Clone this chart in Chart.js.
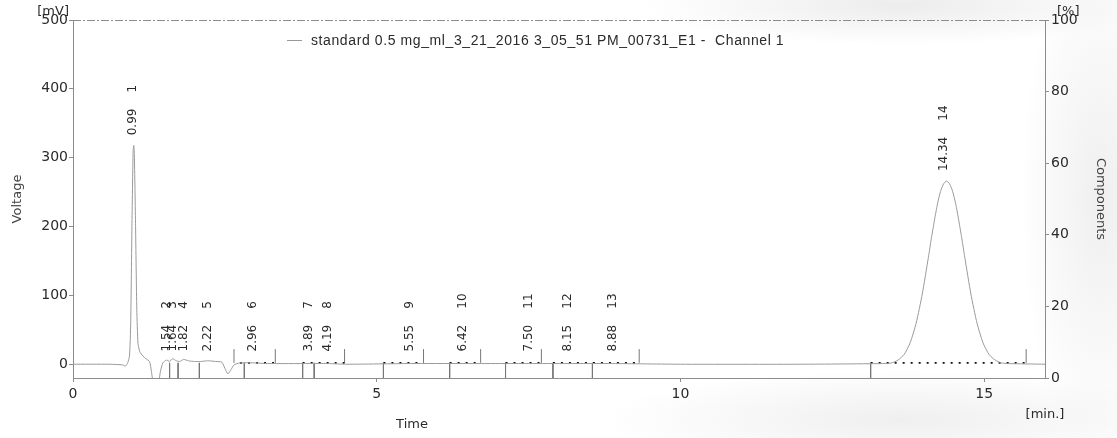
<!DOCTYPE html>
<html>
<head>
<meta charset="utf-8">
<script src="https://cdn.jsdelivr.net/npm/chart.js@4.4.0/dist/chart.umd.min.js"></script>
<style>
    html, body { margin: 0; padding: 0; background: #fff; }
    #wrap {
        width: 1117px; height: 438px; position: relative;
        background:
            radial-gradient(ellipse 260px 40px at 900px 5px, #ececec, rgba(255,255,255,0)),
            radial-gradient(ellipse 80px 260px at 1100px 200px, #efefef, rgba(255,255,255,0)),
            radial-gradient(ellipse 300px 50px at 900px 420px, #efefef, rgba(255,255,255,0)),
            #fff;
    }
</style>
</head>
<body>
<div id="wrap"><canvas id="chromChart" width="1117" height="438"></canvas></div>
<script>
// detector trace, time in min, signal in mV
const traceTimes = [0, 0.6, 0.82, 0.86, 0.9, 0.93, 0.95, 0.97, 0.99, 1.0, 1.01, 1.03, 1.05, 1.07, 1.1, 1.15, 1.2, 1.26,
    1.29, 1.33, 1.4, 1.44, 1.48, 1.54, 1.59, 1.64, 1.7, 1.76, 1.82, 1.9, 2.0, 2.1, 2.22, 2.35, 2.45, 2.5, 2.55, 2.6, 2.65,
    2.75, 2.96, 3.2, 3.89, 4.19, 4.5, 5.55, 6.42, 7.5, 8.15, 8.88, 10, 12, 13.38, 13.48, 13.58, 13.68, 13.78, 13.88, 13.98,
    14.08, 14.13, 14.18, 14.23, 14.28, 14.33, 14.38, 14.43, 14.48, 14.53, 14.58, 14.63, 14.68, 14.78, 14.88, 14.98, 15.08,
    15.18, 15.28, 15.38, 16];
const traceVoltages = [0, 0, -1, -3, 2, 12, 60, 200, 310, 318, 305, 200, 80, 30, 18, 12, 8, 4,
    -10, -30, -30, -10, 2, 6, 4, 8, 5, 4, 7, 5, 4, 4, 5, 4, 3, -6, -14, -8, -1,
    2, 2, 1, 1, 1, 0, 1, 1, 1, 1, 1, 0, 0, 1, 2, 6, 14, 31, 60, 102,
    155, 183, 209, 233, 251, 262, 266, 262, 251, 233, 209, 183, 155, 102, 60, 31, 14,
    6, 2, 1, 0];

// peak table
const peakNumbers = [1, 2, 3, 4, 5, 6, 7, 8, 9, 10, 11, 12, 13, 14];
const peakTimes = [0.99, 1.54, 1.64, 1.82, 2.22, 2.96, 3.89, 4.19, 5.55, 6.42, 7.50, 8.15, 8.88, 14.34];
const peakHeights = [318, 4, 4, 4, 4, 4, 4, 4, 4, 4, 4, 4, 4, 266];

// integration marks
const baselineStarts = [2.75, 3.78, 5.11, 6.2, 7.12, 7.9, 13.13];
const baselineEnds = [3.33, 4.47, 5.77, 6.71, 7.71, 9.32, 15.69];
const startTicks = [1.59, 1.73, 2.08, 2.82, 3.78, 3.97, 5.11, 6.2, 7.12, 7.9, 8.55, 13.13];
const endTicks = [2.65, 3.33, 4.47, 5.77, 6.71, 7.71, 9.32, 15.69];

// axis ticks
const timeTicks = [0, 5, 10, 15];
const voltageTicks = [0, 100, 200, 300, 400, 500];
const componentTicks = [0, 20, 40, 60, 80, 100];

const legendText = 'standard 0.5 mg_ml_3_21_2016 3_05_51 PM_00731_E1 -  Channel 1';

const axisGrey = '#8c8c8c';
const textGrey = '#2a2a2a';
const tickFont = { family: 'DejaVu Sans', size: 14 };

function segmentPoints(list) {
    const pts = [];
    list.forEach(seg => {
        pts.push(seg[0], seg[1], { x: seg[1].x, y: null });
    });
    return pts;
}

// extra drawing: frame top, legend, peak labels, units
const decorPlugin = {
    id: 'decor',
    afterDraw(chart) {
        const { ctx, chartArea: a, scales } = chart;
        const x = scales.x, y = scales.y;
        ctx.save();
        // top border
        ctx.strokeStyle = axisGrey;
        ctx.lineWidth = 1;
        ctx.setLineDash([8, 2, 2, 2]);
        ctx.beginPath();
        ctx.moveTo(a.left, a.top + 0.5);
        ctx.lineTo(a.right, a.top + 0.5);
        ctx.stroke();
        ctx.setLineDash([]);

        // legend
        ctx.strokeStyle = '#999';
        ctx.beginPath();
        ctx.moveTo(287, 40.5);
        ctx.lineTo(302, 40.5);
        ctx.stroke();
        ctx.fillStyle = textGrey;
        ctx.font = '14px "Liberation Sans", Arial, sans-serif';
        ctx.letterSpacing = '0.6px';
        ctx.textBaseline = 'middle';
        ctx.textAlign = 'left';
        ctx.fillText(legendText, 311, 41);
        ctx.letterSpacing = '0px';

        // peak labels, rotated
        ctx.font = '12px "DejaVu Sans", sans-serif';
        peakTimes.forEach((t, i) => {
            const px = x.getPixelForValue(t);
            const py = y.getPixelForValue(peakHeights[i]) - 10;
            const rt = t.toFixed(2);
            ctx.save();
            ctx.translate(px, py);
            ctx.rotate(-Math.PI / 2);
            ctx.textAlign = 'left';
            ctx.textBaseline = 'middle';
            ctx.fillText(rt, 0, 0);
            ctx.fillText(String(peakNumbers[i]), ctx.measureText(rt).width + 16, 0);
            ctx.restore();
        });

        // units and x title
        ctx.font = '13px "DejaVu Sans", sans-serif';
        ctx.textAlign = 'right';
        ctx.fillText('[mV]', 69, 12);
        ctx.textAlign = 'left';
        ctx.fillText('[%]', 1057, 12);
        ctx.textAlign = 'center';
        ctx.fillText('[min.]', 1045, 415);
        ctx.fillText('Time', 412, 425);
        ctx.restore();
    }
};

function createChromatogram() {
    const ctx = document.getElementById('chromChart').getContext('2d');
    const trace = traceTimes.map((t, i) => ({ x: t, y: traceVoltages[i] }));
    const baseLine = segmentPoints(baselineStarts.map((s, i) => [{ x: s, y: 2 }, { x: baselineEnds[i], y: 2 }]));
    const downMarks = segmentPoints(startTicks.map(t => [{ x: t, y: 2 }, { x: t, y: -20 }]));
    const upMarks = segmentPoints(endTicks.map(t => [{ x: t, y: 2 }, { x: t, y: 22 }]));

    new Chart(ctx, {
        type: 'line',
        data: {
            datasets: [{
                label: legendText,
                data: trace,
                borderColor: '#9a9a9a',
                borderWidth: 1,
                pointRadius: 0,
                tension: 0.2,
            }, {
                data: baseLine,
                borderColor: '#111',
                borderWidth: 1.8,
                borderDash: [2, 6],
                pointRadius: 0,
                spanGaps: false,
            }, {
                data: downMarks,
                borderColor: '#777',
                borderWidth: 1,
                pointRadius: 0,
                spanGaps: false,
            }, {
                data: upMarks,
                borderColor: '#777',
                borderWidth: 1,
                pointRadius: 0,
                spanGaps: false,
            }],
        },
        options: {
            responsive: false,
            animation: false,
            events: [],
            layout: { padding: { top: 20, left: 0, right: 0, bottom: 0 } },
            plugins: {
                legend: { display: false },
                tooltip: { enabled: false },
            },
            scales: {
                x: {
                    type: 'linear',
                    min: 0,
                    max: 16,
                    afterFit: s => { s.height = 60; },
                    afterBuildTicks: s => { s.ticks = timeTicks.map(v => ({ value: v })); },
                    grid: { drawOnChartArea: false, tickLength: 4, color: axisGrey },
                    border: { color: axisGrey, dash: [8, 2, 2, 2] },
                    ticks: { color: textGrey, font: tickFont, padding: 4, maxRotation: 0 },
                },
                y: {
                    position: 'left',
                    min: -20,
                    max: 500,
                    afterFit: s => { s.width = 73; },
                    afterBuildTicks: s => { s.ticks = voltageTicks.map(v => ({ value: v })); },
                    grid: { drawOnChartArea: false, tickLength: 4, color: axisGrey },
                    border: { color: axisGrey, dash: [8, 2, 2, 2] },
                    ticks: { color: textGrey, font: tickFont, padding: 1 },
                    title: {
                        display: true,
                        text: 'Voltage',
                        color: '#444',
                        font: { family: 'DejaVu Sans', size: 13 },
                        padding: { top: 10 },
                    },
                },
                y2: {
                    position: 'right',
                    min: 0,
                    max: 100,
                    afterFit: s => { s.width = 72; },
                    afterBuildTicks: s => { s.ticks = componentTicks.map(v => ({ value: v })); },
                    grid: { drawOnChartArea: false, tickLength: 4, color: axisGrey },
                    border: { color: axisGrey, dash: [8, 2, 2, 2] },
                    ticks: { color: textGrey, font: tickFont, padding: 2 },
                    title: {
                        display: true,
                        text: 'Components',
                        color: '#444',
                        font: { family: 'DejaVu Sans', size: 13 },
                        padding: { top: 9 },
                    },
                },
            },
        },
        plugins: [decorPlugin],
    });
}

document.addEventListener('DOMContentLoaded', () => {
    createChromatogram();
});
</script>
</body>
</html>
